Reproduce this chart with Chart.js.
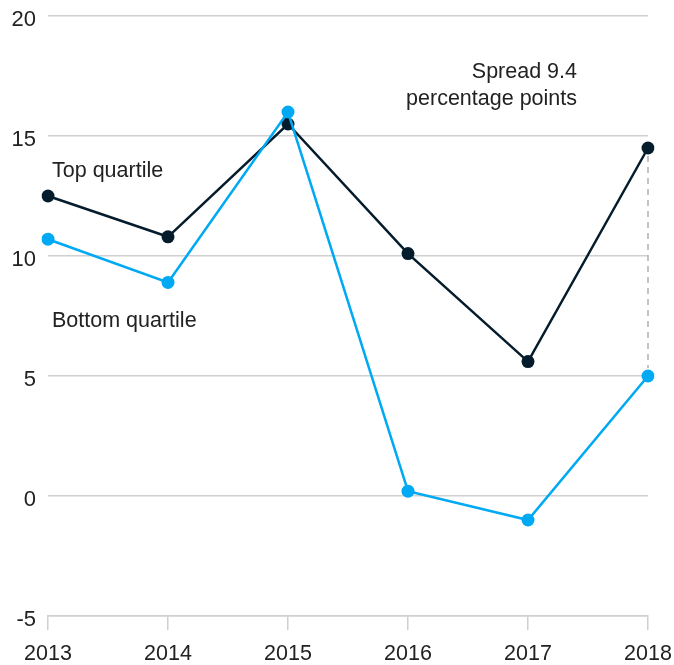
<!DOCTYPE html>
<html>
<head>
<meta charset="utf-8">
<script src="https://cdn.jsdelivr.net/npm/chart.js@4"></script>
<style>
  html, body { margin: 0; padding: 0; background: #fff; }
  #wrap { width: 674px; height: 665px; position: relative; }
</style>
</head>
<body>
<div id="wrap"><canvas id="chart"></canvas></div>
<script>
// data
const years = ['2013', '2014', '2015', '2016', '2017', '2018'];
const topQuartile = [12.5, 10.8, 15.5, 10.1, 5.6, 14.5];
const bottomQuartile = [10.7, 8.9, 16.0, 0.2, -1.0, 5.0];
const yTicks = [-5, 0, 5, 10, 15, 20];

const navy = '#051c2c';
const cyan = '#00a9f4';
const grid = '#d0d0d0';
const font = "'Liberation Sans', Arial, sans-serif";

// labels and the dashed spread marker
const annotations = {
    id: 'annotations',
    afterDatasetsDraw(chart) {
        const { ctx, scales: { x, y } } = chart;
        const last = years.length - 1;
        const px = x.getPixelForValue(last);
        ctx.save();
        ctx.strokeStyle = '#b0b0b0';
        ctx.lineWidth = 1.5;
        ctx.setLineDash([6, 5]);
        ctx.beginPath();
        ctx.moveTo(px, y.getPixelForValue(topQuartile[last]) + 8);
        ctx.lineTo(px, y.getPixelForValue(bottomQuartile[last]) - 8);
        ctx.stroke();
        ctx.setLineDash([]);

        ctx.fillStyle = '#222';
        ctx.font = '21.5px ' + font;
        ctx.textBaseline = 'middle';
        ctx.textAlign = 'left';
        ctx.fillText('Top quartile', x.getPixelForValue(0) + 4, 171);
        ctx.fillText('Bottom quartile', x.getPixelForValue(0) + 4, 321);
        ctx.textAlign = 'right';
        ctx.fillText('Spread 9.4', 577, 72);
        ctx.fillText('percentage points', 577, 99);
        ctx.restore();
    }
};

// keep tick labels from pushing the plot area around
function noOverflow(scale) {
    scale.paddingLeft = 0;
    scale.paddingRight = 0;
    scale.paddingTop = 0;
    scale.paddingBottom = 0;
}

new Chart(document.getElementById('chart'), {
    type: 'line',
    data: {
        labels: years,
        datasets: [
            {
                label: 'Bottom quartile',
                data: bottomQuartile,
                borderColor: cyan,
                backgroundColor: cyan,
                borderWidth: 2.5,
                pointRadius: 6.5,
                pointBorderWidth: 0,
                tension: 0
            },
            {
                label: 'Top quartile',
                data: topQuartile,
                borderColor: navy,
                backgroundColor: navy,
                borderWidth: 2.5,
                pointRadius: 6.5,
                pointBorderWidth: 0,
                tension: 0
            }
        ]
    },
    options: {
        responsive: true,
        maintainAspectRatio: false,
        animation: false,
        layout: { padding: { top: 16, right: 26, left: 0, bottom: 0 } },
        plugins: { legend: { display: false }, tooltip: { enabled: false } },
        scales: {
            x: {
                offset: false,
                grid: { drawOnChartArea: false, drawTicks: true, tickLength: 14, color: grid, lineWidth: 1.5 },
                border: { display: true, color: grid, width: 1.5 },
                ticks: { color: '#222', font: { family: font, size: 21.5 }, padding: 11, maxRotation: 0, autoSkip: false },
                afterFit(scale) { scale.height = 49; noOverflow(scale); }
            },
            y: {
                min: -5,
                max: 20,
                afterBuildTicks(scale) { scale.ticks = yTicks.map(v => ({ value: v })); },
                grid: { color: grid, lineWidth: 1.5, drawTicks: false },
                border: { display: false },
                ticks: { color: '#222', font: { family: font, size: 22 }, padding: 12, labelOffset: 4 },
                afterFit(scale) { scale.width = 48; noOverflow(scale); }
            }
        }
    },
    plugins: [annotations]
});
</script>
</body>
</html>
